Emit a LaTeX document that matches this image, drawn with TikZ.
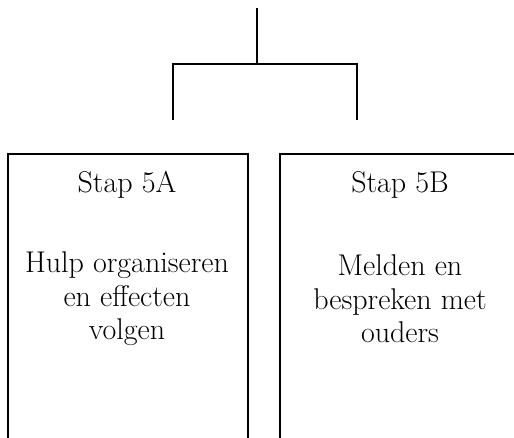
\documentclass[tikz,border=0pt]{standalone}
\begin{document}
\begin{tikzpicture}[x=1pt,y=-1pt,
  conn/.style={draw=black,line width=2pt},
  stepbox/.style={draw=black,line width=2pt,anchor=north west,minimum width=240pt,minimum height=320pt,inner sep=0pt},
  txt/.style={align=center,font=\fontsize{30}{33.5}\selectfont,inner sep=0pt}]
\useasboundingbox (0,0) rectangle (514,437);
\clip (0,0) rectangle (514,437);
\coordinate (top) at (257,8);
\coordinate (j) at (257,64);
\coordinate (jl) at (173,64);
\coordinate (jr) at (357,64);
\coordinate (el) at (173,120);
\coordinate (er) at (357,120);
\draw[conn] (top) -- (j);
\draw[conn] (el) -- (jl) -- (jr) -- (er);
\node[stepbox] (boxA) at (7,153) {};
\node[stepbox] (boxB) at (279,153) {};
\node[txt] (tA) at (127,185) {Stap 5A};
\node[txt] (dA) at (127,299) {Hulp organiseren\\en effecten\\volgen};
\node[txt] (tB) at (400,185) {Stap 5B};
\node[txt] (dB) at (400,299) {Melden en\\bespreken met\\ouders};
\end{tikzpicture}
\end{document}
